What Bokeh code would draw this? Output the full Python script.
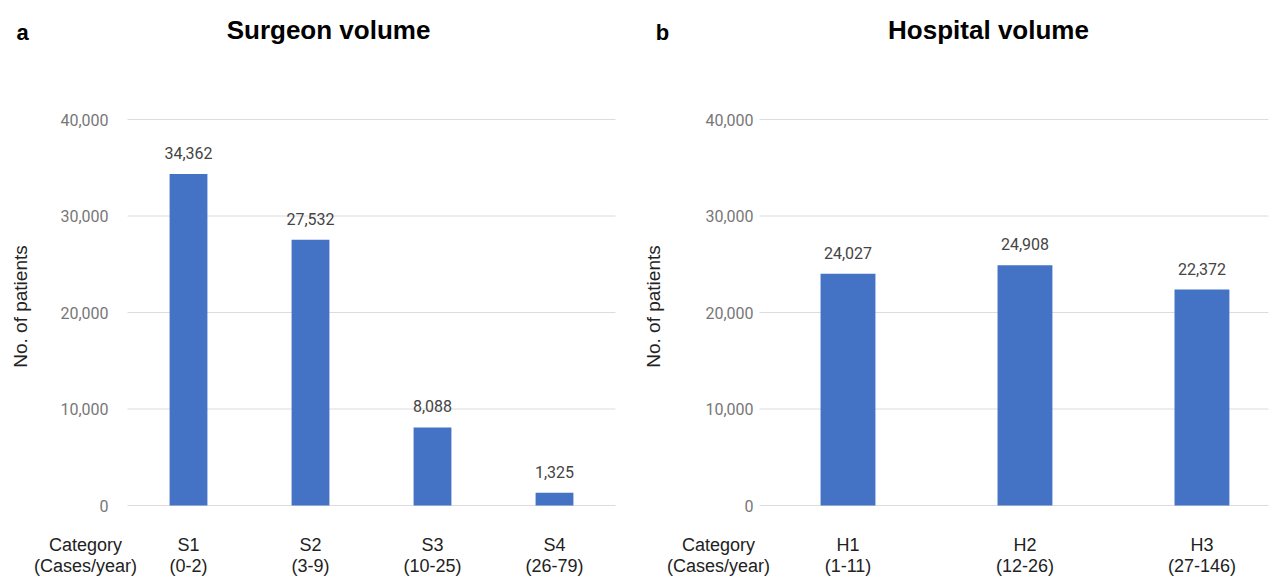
from math import pi

from bokeh.core.properties import value
from bokeh.embed import file_html
from bokeh.layouts import row
from bokeh.models import ColumnDataSource, Range1d
from bokeh.plotting import figure
from bokeh.resources import INLINE

# Patients per volume category
surgeon_groups = ["S1", "S2", "S3", "S4"]
surgeon_ranges = ["(0-2)", "(3-9)", "(10-25)", "(26-79)"]
surgeon_patients = [34362, 27532, 8088, 1325]

hospital_groups = ["H1", "H2", "H3"]
hospital_ranges = ["(1-11)", "(12-26)", "(27-146)"]
hospital_patients = [24027, 24908, 22372]

y_ticks = [0, 10000, 20000, 30000, 40000]
Y_MAX = 40000

BAR_COLOR = "#4472C4"
GRID_COLOR = "#dcdcdc"
ARIAL = value("Liberation Sans")
ROBOTO = value("Roboto")
HEIGHT = 579
PAD_TOP = 119      # canvas pixels above the plotting area
PAD_BOTTOM = 74    # canvas pixels below it


def volume_panel(panel_letter, title, groups, ranges, patients, width,
                 pad_left, pad_right, x_end, tick_standoff, ylabel_x, title_x,
                 category_x):
    xs = list(range(len(groups)))
    x0 = -0.5

    # The frame fills the canvas; the ranges are widened so that the bar area
    # (x0..x_end, 0..Y_MAX) sits inside the paddings around it.
    ux = (width - pad_left - pad_right) / (x_end - x0)
    uy = (HEIGHT - PAD_TOP - PAD_BOTTOM) / Y_MAX
    p = figure(width=width, height=HEIGHT, output_backend="svg", toolbar_location=None,
               x_range=Range1d(x0 - pad_left / ux, x_end + pad_right / ux),
               y_range=Range1d(-PAD_BOTTOM / uy, Y_MAX + PAD_TOP / uy),
               x_axis_location=None, y_axis_location=None, min_border=0)
    p.outline_line_color = None
    p.xgrid.visible = False
    p.ygrid.visible = False

    # value axis: gridlines and tick labels
    n_ticks = len(y_ticks)
    p.segment(x0=[x0] * n_ticks, x1=[x_end] * n_ticks, y0=y_ticks, y1=y_ticks,
              line_color=GRID_COLOR, line_width=1)
    p.text(x=[x0] * n_ticks, y=y_ticks, text=[f"{t:,}" for t in y_ticks],
           x_offset=-tick_standoff, text_align="right", text_baseline="middle",
           text_font=ROBOTO, text_font_size="16px", text_color="#777777")
    p.text(x=[x0], y=[Y_MAX / 2], text=["No. of patients"], angle=pi / 2,
           x_offset=ylabel_x - pad_left, y_offset=-6, text_align="center",
           text_baseline="middle", text_font=ARIAL, text_font_size="19px",
           text_color="#222222")

    # bars with their values
    src = ColumnDataSource(dict(x=xs, n=patients, label=[f"{v:,}" for v in patients]))
    p.vbar(x="x", top="n", width=0.31, source=src, fill_color=BAR_COLOR, line_color=None)
    p.text(x="x", y="n", text="label", source=src, text_align="center",
           text_baseline="bottom", y_offset=-15, text_font=ROBOTO,
           text_font_size="16px", text_color="#444444")

    # category labels under the bars
    p.text(x=xs, y=[0] * len(xs), text=[f"{g}\n{r}" for g, r in zip(groups, ranges)],
           y_offset=50, text_font=ARIAL, text_font_size="18px", text_color="#222222",
           text_align="center", text_baseline="middle", text_line_height=1.05)
    p.text(x=[x0], y=[0], text=["Category\n(Cases/year)"], x_offset=category_x - pad_left,
           y_offset=50, text_font=ARIAL, text_font_size="18px", text_color="#222222",
           text_align="center", text_baseline="middle", text_line_height=1.05)

    # panel letter and title
    p.text(x=[x0], y=[Y_MAX], text=[panel_letter], x_offset=22 - pad_left,
           y_offset=32 - PAD_TOP, text_font=ARIAL, text_font_style="bold",
           text_font_size="22px", text_color="#000000", text_align="center",
           text_baseline="middle")
    p.text(x=[x0], y=[Y_MAX], text=[title], x_offset=title_x - pad_left,
           y_offset=29 - PAD_TOP, text_font=ARIAL, text_font_style="bold",
           text_font_size="26px", text_color="#000000", text_align="center",
           text_baseline="middle")
    return p


left = volume_panel("a", "Surgeon volume", surgeon_groups, surgeon_ranges, surgeon_patients,
                    width=640, pad_left=127, pad_right=25, x_end=3.5,
                    tick_standoff=19, ylabel_x=20, title_x=328, category_x=85)
right = volume_panel("b", "Hospital volume", hospital_groups, hospital_ranges, hospital_patients,
                     width=639, pad_left=119, pad_right=11, x_end=2.376,
                     tick_standoff=6, ylabel_x=13, title_x=348, category_x=78)

layout = row(left, right, spacing=0)
open("out.html", "w").write(file_html(layout, INLINE))
